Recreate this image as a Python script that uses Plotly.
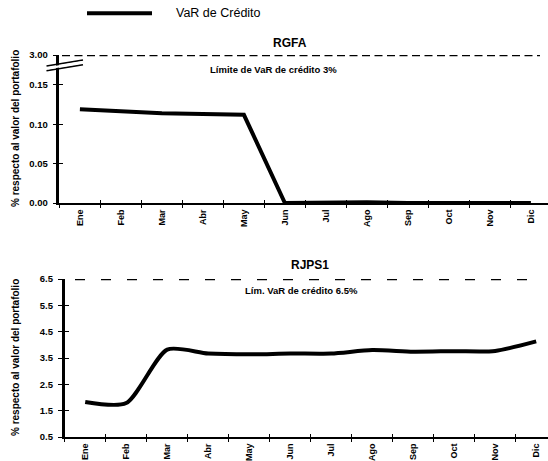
import plotly.graph_objects as go

W, H = 548, 461

months = ["Ene", "Feb", "Mar", "Abr", "May", "Jun", "Jul", "Ago", "Sep", "Oct", "Nov", "Dic"]
rgfa_var = [0.119, 0.116, 0.114, 0.113, 0.112, 0.0, 0.001, 0.001, 0.0, 0.0, 0.0, 0.0]
rjps1_var = [1.83, 1.79, 3.82, 3.67, 3.64, 3.67, 3.67, 3.80, 3.74, 3.76, 3.77, 4.13]

# top panel uses a broken axis: the 3% limit is drawn at the top of the axis
rgfa_ticks = [0.0, 0.05, 0.10, 0.15, 0.188]
rgfa_ticktext = ["0.00", "0.05", "0.10", "0.15", "3.00"]
rgfa_limit_pos = 0.188
rjps1_ticks = [0.5, 1.5, 2.5, 3.5, 4.5, 5.5, 6.5]
rjps1_limit = 6.5

series_name = "VaR de Crédito"
title_top = "RGFA"
title_bot = "RJPS1"
limit_top_text = "Límite de VaR de crédito 3%"
limit_bot_text = "Lím. VaR de crédito 6.5%"
ytitle = "% respecto al valor del portafolio"

FONT = "Liberation Sans, Arial, sans-serif"
idx = list(range(len(months)))
bounds = [i - 0.5 for i in range(len(months) + 1)]

def px_x(p):
    return p / W

def px_y(p):
    return 1 - p / H

fig = go.Figure()
fig.add_trace(go.Scatter(x=idx, y=rgfa_var, mode="lines", name=series_name,
                         line=dict(color="black", width=4), xaxis="x", yaxis="y"))
fig.add_trace(go.Scatter(x=idx, y=rjps1_var, mode="lines", name=series_name,
                         line=dict(color="black", width=4, shape="spline", smoothing=0.7),
                         xaxis="x2", yaxis="y2"))
# invisible traces to activate overlay axes (inner tick halves)
fig.add_trace(go.Scatter(x=[0], y=[0], mode="markers", marker=dict(opacity=0),
                         xaxis="x3", yaxis="y3", hoverinfo="skip"))
fig.add_trace(go.Scatter(x=[0], y=[1], mode="markers", marker=dict(opacity=0),
                         xaxis="x4", yaxis="y4", hoverinfo="skip"))

tickfont_y = dict(family=FONT, size=9.5, color="black", weight="bold")
tickfont_x = dict(family=FONT, size=9, color="black", weight="bold")

top_dom_x = [px_x(59.4), 1]
top_dom_y = [px_y(203), px_y(55)]
top_rng_x = [-0.5, -0.5 + (W - 59.4) / 41.0]
bot_dom_x = [px_x(64.7), 1]
bot_dom_y = [px_y(437), px_y(279)]
bot_rng_x = [-0.5, -0.5 + (W - 64.7) / 41.0]

common_x = dict(tickmode="array", tickvals=idx, ticktext=months, tickangle=-90,
                ticks="outside", ticklen=1, tickcolor="rgba(0,0,0,0)",
                showline=True, linewidth=2, linecolor="black",
                showgrid=False, zeroline=False, tickfont=tickfont_x, automargin=False,
                minor=dict(tickmode="array", tickvals=bounds, ticks="outside",
                           ticklen=3, tickwidth=1.2, tickcolor="black", showgrid=False))
common_y = dict(ticks="outside", ticklen=4, tickwidth=1.2, tickcolor="black",
                showline=True, linewidth=2.5, linecolor="black", showgrid=False,
                zeroline=False, tickfont=tickfont_y, ticklabelstandoff=3, automargin=False)
inner_x = dict(tickmode="array", tickvals=bounds, ticks="inside", ticklen=3,
               tickwidth=1.2, tickcolor="black", showticklabels=False, showline=False,
               showgrid=False, zeroline=False, automargin=False)
inner_y = dict(ticks="inside", ticklen=4, tickwidth=1.2, tickcolor="black",
               showticklabels=False, showline=False, showgrid=False, zeroline=False,
               automargin=False)

fig.update_layout(
    width=W, height=H, autosize=False, margin=dict(l=0, r=0, t=0, b=0, pad=0),
    paper_bgcolor="white", plot_bgcolor="white",
    font=dict(family=FONT, color="black"),
    showlegend=False,
    xaxis=dict(domain=top_dom_x, range=top_rng_x, anchor="y", **common_x),
    yaxis=dict(domain=top_dom_y, range=[0, rgfa_limit_pos], anchor="x",
               tickmode="array", tickvals=rgfa_ticks, ticktext=rgfa_ticktext, **common_y),
    xaxis2=dict(domain=bot_dom_x, range=bot_rng_x, anchor="y2", **common_x),
    yaxis2=dict(domain=bot_dom_y, range=[rjps1_ticks[0], rjps1_ticks[-1]], anchor="x2",
                tickmode="array", tickvals=rjps1_ticks,
                ticktext=[f"{v:.1f}" for v in rjps1_ticks], **common_y),
    xaxis3=dict(overlaying="x", anchor="y", range=top_rng_x, **inner_x),
    yaxis3=dict(overlaying="y", anchor="x", side="left", range=[0, rgfa_limit_pos],
                tickmode="array", tickvals=rgfa_ticks, **inner_y),
    xaxis4=dict(overlaying="x2", anchor="y2", range=bot_rng_x, **inner_x),
    yaxis4=dict(overlaying="y2", anchor="x2", side="left",
                range=[rjps1_ticks[0], rjps1_ticks[-1]],
                tickmode="array", tickvals=rjps1_ticks, **inner_y),
)

shapes = []
# legend key line
shapes.append(dict(type="line", xref="paper", yref="paper", x0=px_x(87), x1=px_x(152),
                   y0=px_y(13.3), y1=px_y(13.3), line=dict(color="black", width=4)))
# limit lines
shapes.append(dict(type="line", xref="paper", yref="y", x0=px_x(62), x1=px_x(540),
                   y0=rgfa_limit_pos, y1=rgfa_limit_pos,
                   line=dict(color="black", width=2.5, dash="8px,4.5px")))
shapes.append(dict(type="line", xref="paper", yref="y2", x0=px_x(75), x1=px_x(540),
                   y0=rjps1_limit, y1=rjps1_limit,
                   line=dict(color="black", width=2.5, dash="10px,16px")))
# axis break marks
for dy in (0, 4.7):
    shapes.append(dict(type="line", xref="paper", yref="paper",
                       x0=px_x(46.5), y0=px_y(66 + dy), x1=px_x(83), y1=px_y(60 + dy),
                       line=dict(color="black", width=1.5)))
shapes.append(dict(type="line", xref="paper", yref="paper",
                   x0=px_x(47.5), y0=px_y(68.3), x1=px_x(82), y1=px_y(62.3),
                   line=dict(color="white", width=2.2)))
fig.update_layout(shapes=shapes)

bold = dict(family=FONT, color="black", weight="bold")
ann = [
    dict(text=series_name, x=px_x(174), y=px_y(13.3), xanchor="left",
         font=dict(family=FONT, color="black", size=12.5)),
    dict(text=title_top, x=px_x(290), y=px_y(43), font=dict(size=12, **bold)),
    dict(text=limit_top_text, x=px_x(273), y=px_y(69), font=dict(size=9.5, **bold)),
    dict(text=title_bot, x=px_x(310), y=px_y(265), font=dict(size=12, **bold)),
    dict(text=limit_bot_text, x=px_x(301), y=px_y(290), font=dict(size=9.5, **bold)),
    dict(text=ytitle, x=px_x(15), y=px_y(129), textangle=-90, font=dict(size=10, **bold)),
    dict(text=ytitle, x=px_x(15), y=px_y(358), textangle=-90, font=dict(size=10, **bold)),
]
for a in ann:
    a.setdefault("xanchor", "center")
    a.update(xref="paper", yref="paper", showarrow=False, yanchor="middle")
fig.update_layout(annotations=ann)

fig.write_html("out.html", config={"displayModeBar": False},
               post_script="document.body.style.margin='0';document.body.style.overflow='hidden';")
